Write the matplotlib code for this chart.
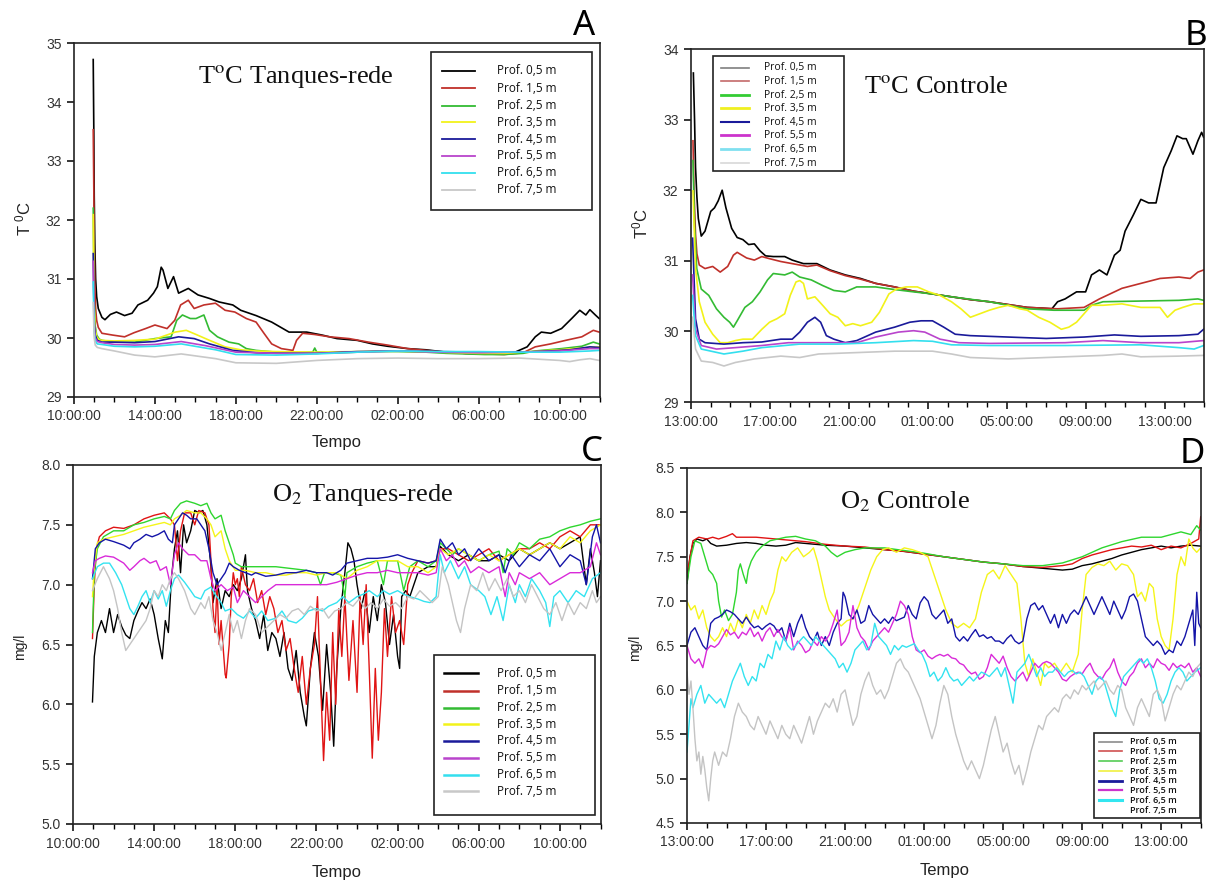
import matplotlib
matplotlib.use("Agg")
import matplotlib.pyplot as plt
from matplotlib.patches import Rectangle
from matplotlib.lines import Line2D
from matplotlib.ticker import FormatStrFormatter

plt.rcParams['font.family'] = ['Liberation Sans', 'DejaVu Sans']
plt.rcParams['mathtext.fontset'] = 'custom'
plt.rcParams['mathtext.rm'] = 'Liberation Sans'
plt.rcParams['mathtext.it'] = 'Liberation Sans:italic'

# ---------------- labels ----------------
depth_labels = ["Prof. 0,5 m", "Prof. 1,5 m", "Prof. 2,5 m", "Prof. 3,5 m",
                "Prof. 4,5 m", "Prof. 5,5 m", "Prof. 6,5 m", "Prof. 7,5 m"]
ticks_AC = ["10:00:00", "14:00:00", "18:00:00", "22:00:00", "02:00:00", "06:00:00", "10:00:00"]
ticks_BD = ["13:00:00", "17:00:00", "21:00:00", "01:00:00", "05:00:00", "09:00:00", "13:00:00"]
tick_hours = [0, 4, 8, 12, 16, 20, 24]

# ---------------- Panel A: temperature, net cages (hours after 10:00, degC) ----------------
A_05 = [(0.95, 34.72), (0.98, 33.5), (1.0, 32.4), (1.03, 31.6), (1.07, 31.0), (1.12, 30.7), (1.2, 30.5),
        (1.38, 30.35), (1.53, 30.31), (1.8, 30.4), (2.1, 30.44), (2.5, 30.38), (2.87, 30.42), (3.16, 30.56),
        (3.64, 30.64), (3.93, 30.76), (4.12, 30.87), (4.31, 31.2), (4.4, 31.15), (4.64, 30.84), (4.92, 31.04),
        (5.17, 30.76), (5.65, 30.84), (6.13, 30.73), (6.7, 30.67), (7.18, 30.61), (7.85, 30.56), (8.24, 30.47),
        (9.0, 30.38), (9.77, 30.27), (10.63, 30.1), (11.5, 30.1), (12.26, 30.05), (13.0, 29.99), (14.0, 29.96),
        (14.75, 29.9), (15.5, 29.86), (16.5, 29.82), (17.4, 29.8), (18.4, 29.76), (19.35, 29.74), (20.3, 29.73),
        (21.26, 29.73), (21.8, 29.76), (22.4, 29.85), (22.8, 30.02), (23.1, 30.1), (23.56, 30.08), (24.1, 30.16),
        (24.6, 30.33), (25.0, 30.47), (25.3, 30.39), (25.5, 30.48), (25.77, 30.39), (25.96, 30.33)]
A_15 = [(0.95, 33.53), (0.98, 32.5), (1.0, 31.6), (1.03, 30.9), (1.07, 30.5), (1.12, 30.3), (1.2, 30.18),
        (1.38, 30.08), (1.9, 30.05), (2.5, 30.02), (2.97, 30.09), (3.54, 30.16), (4.0, 30.22), (4.6, 30.16),
        (4.98, 30.3), (5.27, 30.56), (5.65, 30.64), (5.94, 30.5), (6.42, 30.56), (6.99, 30.59), (7.47, 30.47),
        (7.95, 30.44), (8.52, 30.33), (9.0, 30.27), (9.39, 30.08), (9.77, 29.9), (10.25, 29.82), (10.82, 29.79),
        (11.0, 29.96), (11.3, 30.08), (11.88, 30.06), (12.64, 30.02), (13.6, 29.99), (14.56, 29.93), (15.5, 29.88),
        (16.5, 29.82), (17.4, 29.79), (18.4, 29.76), (19.35, 29.74), (20.3, 29.73), (21.26, 29.72), (22.2, 29.75),
        (22.8, 29.85), (23.56, 29.9), (24.3, 29.96), (25.1, 30.02), (25.67, 30.13), (25.96, 30.1)]
A_25 = [(0.95, 32.2), (0.98, 31.2), (1.0, 30.6), (1.05, 30.2), (1.12, 30.05), (1.25, 29.98), (1.38, 29.96),
        (2.0, 29.93), (3.0, 29.93), (4.0, 29.99), (4.8, 30.02), (5.08, 30.3), (5.36, 30.39), (5.75, 30.33),
        (6.03, 30.33), (6.42, 30.39), (6.7, 30.13), (7.09, 30.02), (7.66, 29.93), (8.14, 29.9), (8.52, 29.82),
        (9.0, 29.79), (10.0, 29.76), (11.0, 29.75), (11.8, 29.76), (11.9, 29.83), (12.0, 29.76), (13.0, 29.75),
        (14.0, 29.76), (15.0, 29.77), (16.0, 29.77), (17.4, 29.76), (18.4, 29.74), (19.35, 29.73), (20.3, 29.72),
        (21.26, 29.72), (22.2, 29.74), (22.8, 29.78), (24.1, 29.82), (25.1, 29.86), (25.67, 29.93), (25.96, 29.9)]
A_35 = [(0.95, 32.09), (0.98, 31.0), (1.0, 30.5), (1.05, 30.15), (1.12, 30.02), (1.25, 29.97), (1.38, 29.96),
        (2.0, 29.95), (3.0, 29.96), (4.0, 29.98), (5.0, 30.1), (5.55, 30.13), (6.1, 30.05), (6.7, 29.96),
        (7.47, 29.85), (8.24, 29.8), (9.0, 29.78), (10.0, 29.77), (12.0, 29.76), (14.0, 29.77), (16.0, 29.78),
        (18.0, 29.76), (20.0, 29.74), (21.3, 29.74), (22.5, 29.77), (24.0, 29.8), (25.0, 29.83), (25.96, 29.85)]
A_45 = [(0.95, 31.43), (0.98, 30.7), (1.0, 30.3), (1.05, 30.05), (1.15, 29.96), (1.38, 29.93), (2.0, 29.93),
        (3.0, 29.92), (4.0, 29.94), (5.17, 30.02), (5.94, 29.99), (6.7, 29.9), (7.85, 29.79), (9.0, 29.75),
        (10.0, 29.74), (12.0, 29.74), (14.0, 29.77), (16.0, 29.78), (18.0, 29.77), (20.0, 29.76), (22.0, 29.76),
        (23.5, 29.78), (24.5, 29.8), (25.5, 29.85), (25.96, 29.84)]
A_55 = [(0.95, 31.3), (0.98, 30.6), (1.0, 30.2), (1.05, 30.0), (1.15, 29.94), (1.38, 29.92), (2.0, 29.89),
        (3.0, 29.88), (4.0, 29.89), (5.3, 29.94), (6.5, 29.87), (8.0, 29.76), (10.0, 29.74), (12.0, 29.74),
        (14.0, 29.76), (16.0, 29.78), (18.0, 29.76), (20.0, 29.75), (22.0, 29.76), (24.0, 29.78), (25.5, 29.82),
        (25.96, 29.82)]
A_65 = [(0.95, 30.95), (0.98, 30.4), (1.0, 30.1), (1.05, 29.95), (1.15, 29.9), (1.38, 29.89), (2.0, 29.86),
        (3.0, 29.85), (4.0, 29.86), (5.3, 29.9), (7.0, 29.8), (8.0, 29.72), (10.0, 29.71), (12.0, 29.73),
        (14.0, 29.76), (16.0, 29.78), (18.0, 29.77), (20.0, 29.77), (22.0, 29.76), (24.0, 29.76), (25.5, 29.78),
        (25.96, 29.79)]
A_75 = [(0.95, 30.6), (0.98, 30.2), (1.0, 30.0), (1.05, 29.88), (1.15, 29.84), (1.38, 29.82), (2.0, 29.78),
        (3.0, 29.71), (4.0, 29.68), (5.3, 29.73), (7.0, 29.65), (8.0, 29.58), (10.0, 29.57), (12.0, 29.62),
        (14.0, 29.65), (16.0, 29.66), (18.0, 29.65), (20.0, 29.65), (22.0, 29.66), (24.0, 29.62), (24.5, 29.6),
        (25.0, 29.63), (25.5, 29.65), (25.96, 29.62)]

# ---------------- Panel B: temperature, control (hours after 13:00, degC) ----------------
B_05 = [(0.12, 33.66), (0.18, 33.0), (0.23, 32.32), (0.3, 31.9), (0.37, 31.6), (0.52, 31.35), (0.71, 31.42),
        (1.0, 31.7), (1.19, 31.75), (1.38, 31.85), (1.58, 32.0), (1.77, 31.75), (2.06, 31.46), (2.34, 31.33),
        (2.63, 31.3), (2.92, 31.23), (3.21, 31.24), (3.5, 31.14), (3.78, 31.07), (4.17, 31.06), (4.75, 31.06),
        (5.13, 31.01), (5.7, 30.96), (6.38, 30.96), (7.05, 30.87), (7.82, 30.8), (8.59, 30.75), (9.36, 30.68),
        (10.32, 30.63), (11.28, 30.57), (12.24, 30.53), (13.2, 30.49), (14.16, 30.45), (15.12, 30.42),
        (16.08, 30.38), (17.04, 30.34), (17.8, 30.33), (18.29, 30.32), (18.58, 30.42), (18.96, 30.46),
        (19.54, 30.56), (20.0, 30.56), (20.3, 30.8), (20.7, 30.87), (21.08, 30.8), (21.46, 31.08), (21.75, 31.15),
        (22.0, 31.42), (22.42, 31.65), (22.8, 31.87), (23.19, 31.82), (23.57, 31.82), (23.96, 32.32),
        (24.34, 32.56), (24.63, 32.77), (24.92, 32.73), (25.1, 32.73), (25.44, 32.51), (25.69, 32.7),
        (25.88, 32.82), (25.98, 32.75)]
B_15 = [(0.1, 32.7), (0.15, 32.0), (0.23, 31.37), (0.3, 31.1), (0.42, 30.94), (0.71, 30.89), (1.1, 30.92),
        (1.48, 30.84), (1.86, 30.92), (2.15, 31.08), (2.34, 31.12), (2.82, 31.04), (3.21, 31.01), (3.59, 31.06),
        (3.98, 31.03), (4.55, 30.99), (5.13, 30.96), (5.9, 30.92), (6.38, 30.94), (7.05, 30.86), (7.82, 30.79),
        (8.59, 30.74), (9.36, 30.68), (10.32, 30.63), (11.28, 30.57), (12.24, 30.53), (13.2, 30.49),
        (14.16, 30.45), (15.12, 30.42), (16.08, 30.38), (17.04, 30.34), (17.8, 30.33), (18.58, 30.32),
        (19.92, 30.34), (20.7, 30.46), (21.46, 30.56), (21.84, 30.61), (22.8, 30.68), (23.77, 30.75),
        (24.73, 30.77), (25.3, 30.75), (25.69, 30.84), (25.98, 30.87)]
B_25 = [(0.1, 32.42), (0.18, 31.5), (0.29, 30.89), (0.52, 30.6), (0.9, 30.51), (1.29, 30.32), (1.67, 30.2),
        (1.96, 30.13), (2.15, 30.06), (2.34, 30.15), (2.73, 30.34), (3.11, 30.42), (3.5, 30.56), (3.88, 30.73),
        (4.17, 30.82), (4.75, 30.8), (5.13, 30.84), (5.51, 30.77), (6.09, 30.73), (6.67, 30.65), (7.24, 30.58),
        (7.82, 30.56), (8.4, 30.63), (9.36, 30.63), (10.12, 30.6), (11.28, 30.56), (12.24, 30.53), (13.2, 30.49),
        (15.12, 30.42), (17.04, 30.32), (18.39, 30.3), (19.92, 30.3), (20.3, 30.37), (20.88, 30.42),
        (22.8, 30.43), (24.73, 30.44), (25.69, 30.46), (25.98, 30.44)]
B_35 = [(0.1, 31.99), (0.23, 30.89), (0.42, 30.42), (0.71, 30.13), (1.1, 29.96), (1.48, 29.84), (1.86, 29.84),
        (2.25, 29.87), (2.63, 29.89), (3.11, 29.89), (3.59, 30.03), (3.98, 30.13), (4.36, 30.18), (4.75, 30.25),
        (5.03, 30.51), (5.32, 30.7), (5.51, 30.72), (5.7, 30.68), (5.9, 30.46), (6.28, 30.49), (6.67, 30.37),
        (7.05, 30.25), (7.44, 30.2), (7.82, 30.08), (8.2, 30.11), (8.59, 30.08), (9.16, 30.13), (9.55, 30.27),
        (10.03, 30.53), (10.41, 30.6), (10.9, 30.63), (11.47, 30.63), (12.05, 30.56), (12.62, 30.51),
        (13.2, 30.42), (13.68, 30.32), (14.16, 30.2), (14.64, 30.25), (15.12, 30.3), (15.6, 30.34),
        (16.08, 30.37), (16.66, 30.32), (17.04, 30.3), (17.62, 30.2), (18.19, 30.13), (18.77, 30.03),
        (19.15, 30.06), (19.54, 30.13), (19.92, 30.25), (20.3, 30.37), (20.88, 30.37), (21.84, 30.39),
        (22.8, 30.34), (23.77, 30.34), (24.15, 30.2), (24.53, 30.3), (24.92, 30.34), (25.5, 30.39),
        (25.98, 30.39)]
B_45 = [(0.08, 31.32), (0.23, 30.18), (0.42, 29.89), (0.71, 29.84), (1.67, 29.82), (2.63, 29.84),
        (3.59, 29.85), (4.55, 29.89), (5.13, 29.89), (5.51, 29.99), (5.9, 30.13), (6.28, 30.2), (6.57, 30.13),
        (6.86, 29.94), (7.24, 29.89), (7.82, 29.84), (8.4, 29.87), (9.36, 29.99), (10.32, 30.06), (11.09, 30.13),
        (11.66, 30.15), (12.24, 30.15), (12.81, 30.06), (13.39, 29.96), (14.16, 29.94), (16.08, 29.92),
        (18.0, 29.9), (19.92, 29.92), (21.46, 29.95), (22.8, 29.93), (24.73, 29.94), (25.69, 29.96),
        (25.98, 30.03)]
B_55 = [(0.08, 30.8), (0.23, 30.03), (0.52, 29.8), (1.29, 29.75), (2.25, 29.77), (3.59, 29.8), (4.94, 29.84),
        (6.09, 29.84), (7.44, 29.84), (8.4, 29.84), (9.36, 29.92), (10.51, 29.99), (11.28, 30.01),
        (11.85, 29.99), (12.62, 29.89), (13.58, 29.84), (15.12, 29.83), (18.96, 29.84), (20.88, 29.87),
        (22.8, 29.84), (24.73, 29.84), (25.98, 29.87)]
B_65 = [(0.08, 30.51), (0.23, 29.94), (0.52, 29.75), (1.67, 29.68), (2.63, 29.72), (3.59, 29.77),
        (5.51, 29.82), (7.44, 29.82), (9.36, 29.84), (11.28, 29.87), (12.24, 29.86), (13.2, 29.81),
        (15.12, 29.8), (18.96, 29.8), (22.8, 29.81), (24.73, 29.77), (25.5, 29.75), (25.98, 29.8)]
B_75 = [(0.08, 30.2), (0.23, 29.75), (0.52, 29.58), (1.1, 29.56), (1.67, 29.51), (2.25, 29.56), (3.21, 29.61),
        (4.55, 29.65), (5.51, 29.63), (6.47, 29.68), (8.4, 29.7), (10.32, 29.72), (12.24, 29.72), (13.2, 29.68),
        (14.16, 29.63), (16.08, 29.61), (18.0, 29.63), (20.88, 29.66), (21.84, 29.68), (22.8, 29.64),
        (24.73, 29.65), (25.98, 29.66)]

# ---------------- Panel C: O2, net cages (hours after 10:00, mg/l) ----------------
C_05 = [(0.96, 6.02), (1.05, 6.4), (1.2, 6.6), (1.4, 6.7), (1.6, 6.6), (1.8, 6.8), (2.0, 6.6), (2.2, 6.75),
        (2.4, 6.65), (2.6, 6.58), (2.8, 6.55), (3.0, 6.7), (3.2, 6.78), (3.4, 6.85), (3.6, 6.8), (3.8, 6.88),
        (4.0, 6.75), (4.2, 6.55), (4.4, 6.38), (4.55, 6.7), (4.7, 6.6), (4.85, 7.05), (5.0, 7.3), (5.15, 7.45),
        (5.3, 7.1), (5.45, 7.5), (5.6, 7.35), (5.8, 7.45), (6.0, 7.62), (6.2, 7.6), (6.4, 7.62), (6.6, 7.5),
        (6.8, 7.15), (6.9, 6.85), (7.1, 7.05), (7.3, 6.8), (7.5, 6.95), (7.7, 6.9), (7.9, 7.0), (8.1, 6.95),
        (8.3, 7.05), (8.5, 7.25), (8.6, 6.95), (8.8, 6.8), (9.0, 6.7), (9.2, 6.55), (9.4, 6.75), (9.6, 6.45),
        (9.8, 6.6), (10.0, 6.55), (10.2, 6.4), (10.4, 6.6), (10.6, 6.3), (10.8, 6.2), (11.0, 6.45), (11.2, 6.1),
        (11.4, 5.9), (11.5, 5.82), (11.7, 6.3), (11.9, 6.6), (12.1, 6.4), (12.3, 5.95), (12.5, 6.5), (12.7, 6.1),
        (12.85, 5.65), (13.0, 6.3), (13.2, 6.8), (13.4, 7.1), (13.55, 7.35), (13.7, 7.3), (13.85, 7.2),
        (14.0, 7.0), (14.2, 6.8), (14.4, 6.95), (14.6, 6.6), (14.8, 6.9), (15.0, 6.7), (15.2, 7.0), (15.4, 6.85),
        (15.6, 6.5), (15.8, 6.75), (16.0, 6.4), (16.1, 6.3), (16.2, 6.9), (16.4, 6.95), (16.6, 6.9), (16.8, 7.0),
        (17.0, 7.1), (17.5, 7.15), (17.9, 7.15), (18.1, 7.32), (18.5, 7.25), (19.0, 7.2), (19.5, 7.25),
        (20.0, 7.2), (20.5, 7.2), (21.0, 7.25), (21.5, 7.2), (22.0, 7.3), (22.5, 7.25), (23.0, 7.3),
        (23.5, 7.35), (24.0, 7.3), (24.5, 7.35), (25.0, 7.4), (25.3, 7.0), (25.5, 7.3), (25.7, 7.1),
        (25.85, 6.9), (26.0, 7.2)]
C_15 = [(0.96, 6.55), (1.05, 7.0), (1.15, 7.3), (1.3, 7.4), (1.6, 7.45), (2.0, 7.48), (2.5, 7.47),
        (3.0, 7.5), (3.5, 7.55), (4.0, 7.58), (4.5, 7.6), (4.8, 7.55), (5.0, 7.5), (5.15, 7.2), (5.3, 7.45),
        (5.5, 7.6), (5.8, 7.6), (6.0, 7.5), (6.2, 7.62), (6.5, 7.6), (6.7, 7.5), (6.8, 7.2), (6.9, 6.8),
        (7.0, 6.6), (7.1, 7.0), (7.2, 6.5), (7.3, 6.7), (7.5, 6.25), (7.55, 6.22), (7.7, 6.5), (7.8, 6.9),
        (7.9, 7.1), (8.0, 7.0), (8.1, 7.05), (8.2, 6.9), (8.3, 7.15), (8.5, 7.0), (8.7, 6.95), (8.9, 7.05),
        (9.1, 6.85), (9.3, 6.95), (9.5, 6.75), (9.7, 6.9), (9.9, 6.8), (10.1, 6.6), (10.3, 6.7), (10.5, 6.45),
        (10.7, 6.55), (10.9, 6.3), (11.1, 6.1), (11.3, 6.4), (11.5, 6.0), (11.7, 6.3), (11.9, 6.5), (12.05, 6.9),
        (12.2, 6.2), (12.35, 5.53), (12.5, 6.1), (12.65, 5.7), (12.8, 6.6), (12.95, 6.0), (13.1, 6.8),
        (13.25, 6.4), (13.4, 6.9), (13.6, 6.2), (13.8, 6.7), (14.0, 6.1), (14.15, 6.9), (14.3, 6.5),
        (14.45, 7.0), (14.6, 6.3), (14.75, 5.55), (14.9, 6.3), (15.05, 5.7), (15.2, 6.1), (15.35, 6.8),
        (15.5, 6.4), (15.7, 6.9), (15.9, 6.6), (16.1, 6.7), (16.3, 6.5), (16.5, 7.0), (16.7, 7.1), (17.0, 7.2),
        (17.5, 7.18), (17.9, 7.2), (18.1, 7.3), (18.5, 7.3), (19.0, 7.25), (19.5, 7.2), (20.0, 7.25),
        (20.5, 7.3), (21.0, 7.2), (21.5, 7.25), (22.0, 7.3), (22.5, 7.3), (23.0, 7.35), (23.5, 7.3),
        (24.0, 7.4), (24.5, 7.45), (25.0, 7.4), (25.5, 7.5), (26.0, 7.5)]
C_25 = [(0.96, 6.6), (1.05, 7.1), (1.2, 7.3), (1.5, 7.4), (2.0, 7.45), (2.5, 7.45), (3.0, 7.5), (3.5, 7.52),
        (4.0, 7.55), (4.5, 7.57), (4.8, 7.55), (5.0, 7.62), (5.3, 7.68), (5.6, 7.7), (6.0, 7.68), (6.3, 7.66),
        (6.6, 7.68), (6.8, 7.6), (7.0, 7.55), (7.3, 7.58), (7.5, 7.45), (7.7, 7.35), (7.9, 7.25), (8.0, 7.18),
        (8.3, 7.15), (8.6, 7.15), (9.0, 7.15), (9.5, 7.15), (10.0, 7.15), (10.5, 7.14), (11.0, 7.13),
        (11.5, 7.12), (12.0, 7.1), (12.2, 7.0), (12.4, 7.1), (12.8, 7.1), (13.2, 7.08), (13.4, 6.9),
        (13.5, 7.1), (14.0, 7.15), (14.5, 7.18), (15.0, 7.2), (15.3, 7.0), (15.5, 7.2), (16.0, 7.2),
        (16.3, 6.95), (16.6, 7.15), (17.0, 7.2), (17.5, 7.15), (17.9, 7.2), (18.1, 7.35), (18.4, 7.3),
        (18.7, 7.25), (19.0, 7.3), (19.5, 7.25), (20.0, 7.2), (20.5, 7.25), (21.0, 7.28), (21.2, 7.1),
        (21.4, 7.3), (21.7, 7.25), (22.0, 7.35), (22.5, 7.3), (23.0, 7.38), (23.5, 7.4), (24.0, 7.45),
        (24.5, 7.48), (25.0, 7.5), (25.5, 7.53), (26.0, 7.55)]
C_35 = [(0.96, 6.9), (1.05, 7.15), (1.2, 7.35), (1.5, 7.38), (2.0, 7.4), (2.5, 7.42), (3.0, 7.45),
        (3.5, 7.48), (4.0, 7.5), (4.5, 7.52), (4.8, 7.5), (5.0, 7.55), (5.3, 7.58), (5.6, 7.62), (6.0, 7.6),
        (6.3, 7.6), (6.6, 7.55), (6.8, 7.5), (7.0, 7.4), (7.3, 7.45), (7.5, 7.3), (7.7, 7.2), (8.0, 7.12),
        (8.5, 7.12), (9.0, 7.1), (9.5, 7.1), (10.0, 7.08), (10.5, 7.08), (11.0, 7.1), (11.5, 7.1), (12.0, 7.08),
        (12.5, 7.1), (13.0, 7.1), (13.5, 7.05), (14.0, 7.12), (14.5, 7.15), (15.0, 7.2), (15.5, 7.2),
        (16.0, 7.2), (16.5, 7.15), (17.0, 7.15), (17.5, 7.1), (17.9, 7.15), (18.1, 7.3), (18.5, 7.25),
        (19.0, 7.3), (19.5, 7.25), (20.0, 7.2), (20.5, 7.25), (21.0, 7.2), (21.5, 7.25), (22.0, 7.3),
        (22.5, 7.25), (23.0, 7.3), (23.5, 7.35), (24.0, 7.3), (24.5, 7.4), (25.0, 7.35), (25.5, 7.45),
        (26.0, 7.5)]
C_45 = [(0.96, 7.05), (1.1, 7.3), (1.3, 7.35), (1.6, 7.38), (2.0, 7.36), (2.5, 7.33), (2.8, 7.3),
        (3.0, 7.35), (3.3, 7.38), (3.6, 7.42), (3.9, 7.4), (4.2, 7.42), (4.5, 7.45), (4.7, 7.38), (4.9, 7.35),
        (5.0, 7.5), (5.2, 7.55), (5.4, 7.6), (5.6, 7.58), (5.8, 7.55), (6.1, 7.55), (6.3, 7.5), (6.5, 7.45),
        (6.7, 7.3), (6.9, 7.1), (7.1, 7.0), (7.3, 7.05), (7.5, 7.1), (7.7, 7.18), (7.9, 7.15), (8.2, 7.12),
        (8.5, 7.1), (8.8, 7.08), (9.0, 7.1), (9.5, 7.07), (10.0, 7.08), (10.5, 7.1), (11.0, 7.1), (11.5, 7.12),
        (12.0, 7.1), (12.5, 7.1), (12.8, 7.08), (13.2, 7.12), (13.5, 7.18), (14.0, 7.2), (14.5, 7.22),
        (15.0, 7.22), (15.5, 7.23), (16.0, 7.25), (16.5, 7.22), (17.0, 7.2), (17.5, 7.18), (17.9, 7.2),
        (18.1, 7.38), (18.4, 7.3), (18.7, 7.35), (19.0, 7.25), (19.3, 7.3), (19.6, 7.2), (20.0, 7.3),
        (20.5, 7.2), (21.0, 7.25), (21.3, 7.1), (21.6, 7.25), (22.0, 7.15), (22.5, 7.25), (23.0, 7.2),
        (23.5, 7.3), (24.0, 7.15), (24.5, 7.25), (25.0, 7.2), (25.3, 7.0), (25.6, 7.4), (25.8, 7.5),
        (26.0, 7.35)]
C_55 = [(0.96, 7.1), (1.1, 7.2), (1.3, 7.22), (1.6, 7.24), (2.0, 7.23), (2.5, 7.18), (2.8, 7.12),
        (3.0, 7.15), (3.3, 7.2), (3.5, 7.22), (3.8, 7.18), (4.1, 7.2), (4.3, 7.12), (4.6, 7.15), (4.8, 7.0),
        (5.0, 7.25), (5.2, 7.35), (5.4, 7.3), (5.7, 7.25), (6.0, 7.25), (6.3, 7.2), (6.6, 7.2), (6.8, 7.05),
        (7.0, 6.95), (7.3, 7.0), (7.6, 6.95), (7.9, 6.98), (8.1, 6.85), (8.4, 6.95), (8.7, 6.9), (9.0, 6.85),
        (9.3, 6.9), (9.6, 6.95), (10.0, 7.0), (10.5, 7.0), (11.0, 7.0), (11.5, 7.0), (12.0, 7.0), (12.5, 7.0),
        (13.0, 7.02), (13.5, 7.05), (14.0, 7.08), (14.5, 7.1), (15.0, 7.1), (15.5, 7.12), (16.0, 7.1),
        (16.5, 7.1), (17.0, 7.1), (17.5, 7.08), (17.9, 7.1), (18.1, 7.3), (18.4, 7.2), (18.7, 7.25),
        (19.0, 7.15), (19.3, 7.2), (19.6, 7.1), (20.0, 7.15), (20.5, 7.1), (21.0, 7.15), (21.3, 6.9),
        (21.5, 7.1), (21.8, 7.0), (22.0, 7.1), (22.5, 7.05), (23.0, 7.1), (23.5, 7.0), (24.0, 7.05),
        (24.5, 7.1), (25.0, 7.1), (25.5, 7.15), (25.8, 7.35), (26.0, 7.25)]
C_65 = [(0.96, 7.05), (1.2, 7.15), (1.5, 7.18), (1.8, 7.18), (2.1, 7.1), (2.4, 7.0), (2.6, 6.9), (2.8, 6.8),
        (3.0, 6.75), (3.2, 6.82), (3.4, 6.9), (3.6, 6.95), (3.8, 6.85), (4.0, 6.95), (4.2, 6.88), (4.4, 6.95),
        (4.6, 6.82), (4.8, 6.95), (5.0, 7.05), (5.2, 7.08), (5.5, 7.02), (5.8, 6.95), (6.0, 6.9), (6.3, 6.88),
        (6.5, 6.95), (6.8, 6.98), (7.0, 6.92), (7.3, 6.85), (7.5, 6.78), (7.8, 6.8), (8.1, 6.75), (8.4, 6.72),
        (8.7, 6.78), (9.0, 6.72), (9.3, 6.78), (9.6, 6.7), (10.0, 6.72), (10.3, 6.78), (10.6, 6.7),
        (11.0, 6.68), (11.3, 6.72), (11.6, 6.78), (12.0, 6.8), (12.3, 6.78), (12.6, 6.82), (13.0, 6.85),
        (13.3, 6.9), (13.6, 6.85), (14.0, 6.9), (14.3, 6.92), (14.6, 6.95), (15.0, 6.9), (15.3, 6.95),
        (15.6, 6.92), (16.0, 6.95), (16.3, 6.92), (16.6, 6.9), (17.0, 6.88), (17.3, 6.86), (17.6, 6.85),
        (17.9, 6.9), (18.1, 7.25), (18.3, 7.1), (18.6, 7.2), (19.0, 7.05), (19.3, 7.15), (19.6, 7.0),
        (20.0, 6.95), (20.3, 6.9), (20.6, 6.75), (20.9, 6.9), (21.2, 6.7), (21.5, 7.0), (21.8, 6.85),
        (22.0, 7.0), (22.3, 6.9), (22.6, 7.05), (23.0, 6.95), (23.3, 6.85), (23.5, 6.65), (23.7, 6.9),
        (24.0, 6.95), (24.4, 6.85), (24.8, 6.95), (25.2, 6.9), (25.6, 7.05), (26.0, 7.1)]
C_75 = [(0.96, 6.95), (1.2, 7.05), (1.5, 7.15), (1.8, 7.05), (2.0, 6.95), (2.2, 6.8), (2.4, 6.6),
        (2.6, 6.45), (2.8, 6.5), (3.0, 6.55), (3.2, 6.6), (3.4, 6.65), (3.6, 6.7), (3.8, 6.8), (4.0, 6.95),
        (4.2, 6.9), (4.4, 7.0), (4.6, 6.95), (4.8, 7.05), (5.0, 7.1), (5.2, 7.05), (5.5, 6.95), (5.8, 6.8),
        (6.0, 6.75), (6.3, 6.85), (6.5, 6.8), (6.7, 6.9), (6.9, 6.7), (7.1, 6.6), (7.3, 6.45), (7.5, 6.6),
        (7.7, 6.75), (7.9, 6.6), (8.1, 6.7), (8.3, 6.55), (8.5, 6.7), (8.7, 6.8), (9.0, 6.75), (9.3, 6.6),
        (9.6, 6.65), (9.9, 6.7), (10.2, 6.75), (10.5, 6.72), (10.8, 6.78), (11.1, 6.8), (11.4, 6.75),
        (11.7, 6.82), (12.0, 6.78), (12.3, 6.8), (12.6, 6.72), (12.9, 6.78), (13.2, 6.8), (13.5, 6.85),
        (13.8, 6.82), (14.1, 6.88), (14.4, 6.8), (14.7, 6.85), (15.0, 6.8), (15.3, 6.88), (15.6, 6.82),
        (15.9, 6.85), (16.2, 6.8), (16.5, 6.9), (16.8, 6.88), (17.1, 6.95), (17.4, 6.9), (17.7, 6.85),
        (18.0, 6.9), (18.2, 7.15), (18.5, 7.0), (18.7, 6.85), (18.9, 6.7), (19.1, 6.6), (19.3, 6.8),
        (19.6, 7.0), (19.9, 6.95), (20.2, 7.1), (20.5, 6.95), (20.8, 7.05), (21.1, 6.95), (21.4, 7.05),
        (21.7, 6.9), (22.0, 6.95), (22.3, 6.85), (22.6, 7.0), (22.9, 6.9), (23.2, 6.8), (23.5, 6.75),
        (23.8, 6.85), (24.1, 6.7), (24.4, 6.85), (24.7, 6.75), (25.0, 6.85), (25.3, 6.8), (25.6, 6.95),
        (25.8, 6.85), (26.0, 6.9)]

# ---------------- Panel D: O2, control (hours after 13:00, mg/l) ----------------
D_05 = [(0.0, 7.2), (0.15, 7.5), (0.3, 7.65), (0.5, 7.7), (0.8, 7.68), (1.0, 7.7), (1.2, 7.65), (1.5, 7.62),
        (2.0, 7.63), (2.5, 7.65), (3.0, 7.66), (3.5, 7.65), (4.0, 7.63), (4.5, 7.62), (5.0, 7.63), (5.5, 7.66),
        (6.0, 7.65), (6.5, 7.64), (7.0, 7.63), (8.0, 7.62), (9.0, 7.6), (10.0, 7.58), (11.0, 7.56),
        (12.0, 7.53), (13.0, 7.5), (14.0, 7.47), (15.0, 7.44), (16.0, 7.42), (17.0, 7.39), (18.0, 7.37),
        (18.5, 7.36), (19.0, 7.35), (19.5, 7.36), (20.0, 7.4), (20.5, 7.42), (21.0, 7.45), (21.5, 7.48),
        (22.0, 7.52), (22.5, 7.55), (23.0, 7.58), (23.5, 7.6), (24.0, 7.62), (24.5, 7.6), (25.0, 7.62),
        (25.5, 7.63), (26.0, 7.62)]
D_15 = [(0.0, 7.3), (0.3, 7.68), (0.6, 7.72), (1.0, 7.7), (1.3, 7.72), (1.6, 7.7), (2.0, 7.73), (2.3, 7.76),
        (2.5, 7.72), (3.0, 7.72), (3.5, 7.72), (4.0, 7.71), (4.5, 7.7), (5.0, 7.69), (6.0, 7.67), (7.0, 7.64),
        (8.0, 7.62), (9.0, 7.61), (10.0, 7.58), (11.0, 7.56), (12.0, 7.53), (13.0, 7.5), (14.0, 7.47),
        (15.0, 7.44), (16.0, 7.42), (17.0, 7.39), (18.0, 7.38), (19.0, 7.4), (19.5, 7.42), (20.0, 7.48),
        (20.5, 7.52), (21.0, 7.55), (21.5, 7.58), (22.0, 7.6), (22.5, 7.62), (23.0, 7.61), (23.5, 7.63),
        (24.0, 7.58), (24.5, 7.62), (25.0, 7.6), (25.5, 7.65), (25.9, 7.7), (26.0, 7.95)]
D_25 = [(0.0, 7.2), (0.2, 7.5), (0.4, 7.68), (0.7, 7.65), (0.9, 7.5), (1.1, 7.35), (1.3, 7.3), (1.5, 7.2),
        (1.6, 7.0), (1.75, 6.82), (1.9, 6.9), (2.1, 6.78), (2.3, 6.85), (2.5, 7.1), (2.6, 7.35), (2.7, 7.42),
        (2.85, 7.3), (3.0, 7.2), (3.1, 7.35), (3.25, 7.45), (3.5, 7.55), (3.8, 7.62), (4.2, 7.68), (4.6, 7.7),
        (5.0, 7.72), (5.5, 7.73), (6.0, 7.7), (6.5, 7.68), (7.0, 7.62), (7.3, 7.55), (7.6, 7.5), (8.0, 7.55),
        (8.5, 7.58), (9.0, 7.6), (10.0, 7.6), (11.0, 7.57), (12.0, 7.54), (13.0, 7.5), (14.0, 7.47),
        (15.0, 7.44), (16.0, 7.42), (17.0, 7.4), (18.0, 7.4), (19.0, 7.43), (20.0, 7.5), (21.0, 7.6),
        (22.0, 7.67), (23.0, 7.72), (24.0, 7.72), (24.5, 7.75), (25.0, 7.78), (25.5, 7.75), (25.8, 7.85),
        (26.0, 7.8)]
D_35 = [(0.0, 7.0), (0.2, 6.9), (0.4, 6.95), (0.6, 6.8), (0.8, 6.9), (1.0, 6.7), (1.2, 6.6), (1.4, 6.55),
        (1.6, 6.6), (1.8, 6.7), (2.0, 6.6), (2.2, 6.75), (2.4, 6.65), (2.6, 6.8), (2.8, 6.7), (3.0, 6.85),
        (3.2, 6.75), (3.4, 6.9), (3.6, 6.8), (3.8, 6.95), (4.0, 6.85), (4.2, 7.0), (4.4, 7.1), (4.6, 7.35),
        (4.8, 7.5), (5.0, 7.45), (5.3, 7.55), (5.6, 7.6), (5.9, 7.5), (6.2, 7.55), (6.4, 7.6), (6.6, 7.45),
        (6.8, 7.25), (7.0, 7.05), (7.2, 6.9), (7.5, 6.8), (7.8, 6.72), (8.1, 6.78), (8.4, 6.8), (8.7, 6.95),
        (9.0, 7.15), (9.3, 7.35), (9.6, 7.5), (9.9, 7.58), (10.2, 7.6), (10.6, 7.55), (11.0, 7.6),
        (11.4, 7.58), (11.8, 7.55), (12.2, 7.5), (12.5, 7.3), (12.8, 7.1), (13.1, 6.9), (13.4, 6.75),
        (13.7, 6.7), (14.0, 6.75), (14.3, 6.7), (14.6, 6.8), (14.9, 7.1), (15.2, 7.3), (15.5, 7.35),
        (15.8, 7.25), (16.1, 7.4), (16.4, 7.3), (16.7, 7.2), (16.9, 6.8), (17.1, 6.3), (17.3, 6.15),
        (17.5, 6.35), (17.7, 6.2), (17.9, 6.05), (18.1, 6.3), (18.3, 6.25), (18.6, 6.3), (18.9, 6.2),
        (19.2, 6.3), (19.5, 6.2), (19.8, 6.4), (20.0, 6.9), (20.2, 7.3), (20.5, 7.38), (20.8, 7.42),
        (21.1, 7.4), (21.4, 7.45), (21.7, 7.35), (22.0, 7.42), (22.3, 7.4), (22.6, 7.3), (22.8, 7.05),
        (23.0, 7.1), (23.2, 7.0), (23.4, 7.2), (23.6, 7.15), (23.8, 6.8), (24.0, 6.6), (24.2, 6.5),
        (24.4, 6.45), (24.6, 6.8), (24.8, 7.3), (25.0, 7.5), (25.2, 7.4), (25.4, 7.7), (25.6, 7.6),
        (25.8, 7.55), (26.0, 7.6)]
D_45 = [(0.0, 6.5), (0.2, 6.65), (0.4, 6.7), (0.6, 6.6), (0.8, 6.5), (1.0, 6.45), (1.2, 6.75), (1.4, 6.8),
        (1.6, 6.82), (1.8, 6.85), (2.0, 6.9), (2.2, 6.88), (2.4, 6.85), (2.6, 6.8), (2.8, 6.75), (3.0, 6.82),
        (3.2, 6.75), (3.4, 6.7), (3.6, 6.72), (3.8, 6.68), (4.0, 6.72), (4.2, 6.75), (4.4, 6.72), (4.6, 6.65),
        (4.8, 6.7), (5.0, 6.55), (5.2, 6.75), (5.4, 6.6), (5.6, 6.75), (5.8, 6.85), (6.0, 6.7), (6.2, 6.6),
        (6.4, 6.55), (6.6, 6.65), (6.8, 6.5), (7.0, 6.6), (7.2, 6.5), (7.4, 6.65), (7.6, 6.75), (7.8, 6.8),
        (7.9, 7.1), (8.0, 7.05), (8.2, 6.85), (8.4, 6.8), (8.6, 6.9), (8.8, 6.75), (9.0, 6.78), (9.2, 6.95),
        (9.4, 6.85), (9.6, 6.8), (9.8, 6.75), (10.0, 6.8), (10.2, 6.75), (10.4, 6.82), (10.6, 6.78),
        (10.8, 6.8), (11.0, 6.82), (11.2, 6.95), (11.4, 6.85), (11.6, 6.8), (11.8, 6.98), (12.0, 7.05),
        (12.2, 7.0), (12.4, 6.85), (12.6, 6.8), (12.8, 6.85), (13.0, 6.9), (13.2, 6.75), (13.4, 6.8),
        (13.6, 6.6), (13.8, 6.55), (14.0, 6.6), (14.2, 6.55), (14.4, 6.62), (14.6, 6.68), (14.8, 6.6),
        (15.0, 6.62), (15.2, 6.58), (15.4, 6.6), (15.6, 6.55), (15.8, 6.55), (16.0, 6.52), (16.2, 6.58),
        (16.4, 6.62), (16.6, 6.55), (16.8, 6.52), (17.0, 6.55), (17.2, 6.8), (17.4, 6.95), (17.6, 6.98),
        (17.8, 6.9), (18.0, 6.95), (18.2, 6.85), (18.4, 6.75), (18.6, 6.85), (18.8, 6.7), (19.0, 6.85),
        (19.2, 6.75), (19.4, 6.85), (19.6, 6.9), (19.8, 6.85), (20.0, 6.95), (20.2, 7.05), (20.4, 6.95),
        (20.6, 6.85), (20.8, 6.95), (21.0, 7.05), (21.2, 6.95), (21.4, 6.85), (21.6, 7.0), (21.8, 6.9),
        (22.0, 6.8), (22.2, 6.9), (22.4, 7.05), (22.6, 7.08), (22.8, 7.0), (23.0, 6.8), (23.2, 6.6),
        (23.4, 6.55), (23.6, 6.5), (23.8, 6.55), (24.0, 6.5), (24.2, 6.4), (24.4, 6.45), (24.6, 6.42),
        (24.8, 6.55), (25.0, 6.5), (25.2, 6.6), (25.4, 6.75), (25.6, 6.9), (25.7, 6.5), (25.8, 7.1),
        (25.9, 6.75), (26.0, 6.7)]
D_55 = [(0.0, 6.5), (0.2, 6.35), (0.4, 6.3), (0.6, 6.35), (0.8, 6.25), (1.0, 6.45), (1.2, 6.5), (1.4, 6.48),
        (1.6, 6.52), (1.8, 6.6), (2.0, 6.68), (2.2, 6.62), (2.4, 6.65), (2.6, 6.58), (2.8, 6.65), (3.0, 6.62),
        (3.2, 6.7), (3.4, 6.6), (3.6, 6.65), (3.8, 6.55), (4.0, 6.65), (4.2, 6.7), (4.4, 6.6), (4.6, 6.68),
        (4.8, 6.6), (5.0, 6.55), (5.2, 6.7), (5.4, 6.45), (5.6, 6.55), (5.8, 6.5), (6.0, 6.42), (6.2, 6.45),
        (6.4, 6.55), (6.6, 6.5), (6.8, 6.6), (7.0, 6.55), (7.2, 6.62), (7.4, 6.75), (7.6, 6.9), (7.8, 6.5),
        (8.0, 6.55), (8.2, 6.65), (8.4, 6.95), (8.6, 6.7), (8.8, 6.6), (9.0, 6.55), (9.2, 6.45), (9.4, 6.55),
        (9.6, 6.6), (9.8, 6.65), (10.0, 6.7), (10.2, 6.65), (10.4, 6.75), (10.6, 6.85), (10.8, 7.0),
        (11.0, 6.95), (11.2, 6.85), (11.4, 6.6), (11.6, 6.45), (11.8, 6.42), (12.0, 6.45), (12.2, 6.38),
        (12.4, 6.35), (12.6, 6.38), (12.8, 6.4), (13.0, 6.38), (13.2, 6.4), (13.4, 6.36), (13.6, 6.35),
        (13.8, 6.3), (14.0, 6.28), (14.2, 6.22), (14.4, 6.18), (14.6, 6.2), (14.8, 6.12), (15.0, 6.15),
        (15.2, 6.25), (15.4, 6.4), (15.6, 6.35), (15.8, 6.3), (16.0, 6.38), (16.2, 6.25), (16.4, 6.15),
        (16.6, 6.1), (16.8, 6.15), (17.0, 6.2), (17.2, 6.1), (17.4, 6.2), (17.6, 6.3), (17.8, 6.25),
        (18.0, 6.3), (18.2, 6.32), (18.4, 6.3), (18.6, 6.25), (18.8, 6.2), (19.0, 6.12), (19.2, 6.1),
        (19.4, 6.15), (19.6, 6.18), (19.8, 6.2), (20.0, 6.18), (20.2, 6.25), (20.4, 6.3), (20.6, 6.2),
        (20.8, 6.15), (21.0, 6.12), (21.2, 6.2), (21.4, 6.25), (21.6, 6.35), (21.8, 6.2), (22.0, 6.1),
        (22.2, 6.05), (22.4, 6.15), (22.6, 6.2), (22.8, 6.3), (23.0, 6.35), (23.2, 6.25), (23.4, 6.3),
        (23.6, 6.25), (23.8, 6.35), (24.0, 6.3), (24.2, 6.28), (24.4, 6.22), (24.6, 6.3), (24.8, 6.25),
        (25.0, 6.28), (25.2, 6.25), (25.4, 6.3), (25.6, 6.2), (25.8, 6.25), (26.0, 6.15)]
D_65 = [(0.0, 5.3), (0.1, 5.6), (0.2, 5.9), (0.3, 5.8), (0.5, 5.95), (0.7, 6.05), (0.9, 5.85), (1.1, 5.95),
        (1.3, 5.9), (1.5, 5.85), (1.7, 5.9), (1.9, 5.8), (2.1, 5.95), (2.3, 6.1), (2.5, 6.2), (2.7, 6.3),
        (2.9, 6.15), (3.1, 6.05), (3.3, 6.15), (3.5, 6.1), (3.7, 6.3), (3.9, 6.25), (4.1, 6.4), (4.3, 6.35),
        (4.5, 6.55), (4.7, 6.45), (4.9, 6.6), (5.1, 6.5), (5.3, 6.45), (5.5, 6.5), (5.7, 6.55), (5.9, 6.6),
        (6.1, 6.55), (6.3, 6.5), (6.5, 6.6), (6.7, 6.55), (6.9, 6.5), (7.1, 6.45), (7.3, 6.4), (7.5, 6.35),
        (7.7, 6.25), (7.9, 6.3), (8.1, 6.2), (8.3, 6.3), (8.5, 6.45), (8.7, 6.5), (8.9, 6.55), (9.1, 6.45),
        (9.3, 6.5), (9.5, 6.75), (9.7, 6.6), (9.9, 6.55), (10.1, 6.5), (10.3, 6.4), (10.5, 6.5), (10.7, 6.45),
        (10.9, 6.5), (11.1, 6.48), (11.3, 6.5), (11.5, 6.52), (11.7, 6.45), (11.9, 6.4), (12.1, 6.3),
        (12.3, 6.15), (12.5, 6.2), (12.7, 6.1), (12.9, 6.15), (13.1, 6.25), (13.3, 6.15), (13.5, 6.1),
        (13.7, 6.12), (13.9, 6.05), (14.1, 6.1), (14.3, 6.15), (14.5, 6.1), (14.7, 6.15), (14.9, 6.2),
        (15.1, 6.18), (15.3, 6.15), (15.5, 6.2), (15.7, 6.25), (15.9, 6.15), (16.1, 6.25), (16.3, 6.05),
        (16.5, 5.85), (16.7, 6.2), (16.9, 6.25), (17.1, 6.3), (17.3, 6.4), (17.5, 6.28), (17.7, 6.15),
        (17.9, 6.25), (18.1, 6.15), (18.3, 6.2), (18.5, 6.2), (18.7, 6.25), (18.9, 6.2), (19.1, 6.15),
        (19.3, 6.2), (19.5, 6.22), (19.7, 6.18), (19.9, 6.2), (20.1, 6.15), (20.3, 6.05), (20.5, 5.95),
        (20.7, 6.1), (20.9, 6.15), (21.1, 6.1), (21.3, 5.95), (21.5, 5.8), (21.7, 5.7), (21.9, 6.0),
        (22.1, 6.15), (22.3, 6.2), (22.5, 6.25), (22.7, 6.3), (22.9, 6.35), (23.1, 6.3), (23.3, 6.35),
        (23.5, 6.25), (23.7, 6.1), (23.9, 5.9), (24.1, 5.85), (24.3, 5.95), (24.5, 6.1), (24.7, 6.2),
        (24.9, 6.25), (25.1, 6.2), (25.3, 6.1), (25.5, 6.15), (25.7, 6.2), (26.0, 6.25)]
D_75 = [(0.0, 6.2), (0.1, 5.95), (0.2, 6.1), (0.3, 5.8), (0.4, 5.45), (0.5, 5.2), (0.6, 5.3), (0.7, 5.05),
        (0.8, 5.25), (0.9, 5.1), (1.0, 4.9), (1.1, 4.75), (1.2, 5.0), (1.3, 5.2), (1.4, 5.3), (1.6, 5.15),
        (1.8, 5.3), (2.0, 5.25), (2.2, 5.45), (2.4, 5.7), (2.6, 5.85), (2.8, 5.75), (3.0, 5.7), (3.2, 5.6),
        (3.4, 5.55), (3.6, 5.7), (3.8, 5.6), (4.0, 5.5), (4.2, 5.65), (4.4, 5.55), (4.6, 5.45), (4.8, 5.6),
        (5.0, 5.5), (5.2, 5.45), (5.4, 5.6), (5.6, 5.5), (5.8, 5.4), (6.0, 5.55), (6.2, 5.7), (6.4, 5.5),
        (6.6, 5.65), (6.8, 5.75), (7.0, 5.85), (7.2, 5.8), (7.4, 5.9), (7.6, 5.75), (7.8, 5.95), (8.0, 6.0),
        (8.2, 5.8), (8.4, 5.6), (8.6, 5.7), (8.8, 5.95), (9.0, 6.1), (9.2, 6.2), (9.4, 6.05), (9.6, 5.95),
        (9.8, 6.0), (10.0, 5.9), (10.2, 6.0), (10.4, 6.15), (10.6, 6.3), (10.8, 6.35), (11.0, 6.25),
        (11.2, 6.2), (11.4, 6.1), (11.6, 6.0), (11.8, 5.9), (12.0, 5.75), (12.2, 5.6), (12.4, 5.45),
        (12.6, 5.6), (12.8, 5.85), (13.0, 6.05), (13.2, 5.95), (13.4, 5.7), (13.6, 5.5), (13.8, 5.35),
        (14.0, 5.2), (14.2, 5.1), (14.4, 5.2), (14.6, 5.1), (14.8, 5.0), (15.0, 5.15), (15.2, 5.35),
        (15.4, 5.55), (15.6, 5.7), (15.8, 5.5), (16.0, 5.3), (16.2, 5.4), (16.4, 5.2), (16.6, 5.05),
        (16.8, 5.15), (17.0, 4.93), (17.2, 5.1), (17.4, 5.3), (17.6, 5.45), (17.8, 5.6), (18.0, 5.55),
        (18.2, 5.7), (18.4, 5.75), (18.6, 5.8), (18.8, 5.75), (19.0, 5.9), (19.2, 5.95), (19.4, 5.9),
        (19.6, 6.0), (19.8, 5.95), (20.0, 6.05), (20.2, 6.0), (20.4, 6.05), (20.6, 6.1), (20.8, 6.0),
        (21.0, 6.05), (21.2, 6.1), (21.4, 6.0), (21.6, 5.95), (21.8, 6.05), (22.0, 6.0), (22.2, 5.8),
        (22.4, 5.7), (22.6, 5.6), (22.8, 5.8), (23.0, 5.9), (23.2, 5.8), (23.4, 5.7), (23.6, 5.95),
        (23.8, 6.0), (24.0, 5.9), (24.2, 5.65), (24.4, 5.8), (24.6, 5.95), (24.8, 6.05), (25.0, 6.0),
        (25.2, 6.1), (25.4, 6.2), (25.6, 6.15), (25.8, 6.25), (26.0, 6.3)]

# ---------------- styling ----------------
W, H = 1207, 881
line_colors_A = ['#000000', '#c0302a', '#33bb33', '#f2f21a', '#1a1a9a', '#b944cc', '#33dfee', '#c8c8c8']
line_colors_C = ['#000000', '#e01414', '#2ed62e', '#f5f51a', '#1414a8', '#d92ad9', '#33e3f0', '#c4c4c4']
leg_colors_AC = ['#000000', '#c0302a', '#33bb33', '#f2f21a', '#1a1a9a', '#b944cc', '#33dfee', '#c8c8c8']
leg_colors_B = ['#7f7f7f', '#c46a6a', '#33cc33', '#f0f020', '#1a1a9a', '#cc33cc', '#80e0f0', '#d8d8d8']
leg_colors_D = ['#8c8c8c', '#d05050', '#55cc55', '#f0f040', '#1a1a9a', '#cc33cc', '#33e6f0', '#ffffff']


def fx(x):
    return x / W


def fy(y):
    return 1 - y / H


fig = plt.figure(figsize=(W / 100, H / 100), dpi=100)


def make_axes(l, t, r, b):
    return fig.add_axes([fx(l), fy(b), (r - l) / W, (b - t) / H])


axA = make_axes(74, 43, 600, 397)
axB = make_axes(691, 49, 1204, 402)
axC = make_axes(73, 465, 600.5, 824)
axD = make_axes(687, 468, 1200.7, 823)


def style(ax, ylim, yticks, xlabels, yfmt):
    ax.set_xlim(0, 26)
    ax.set_ylim(*ylim)
    ax.set_yticks(yticks)
    ax.yaxis.set_major_formatter(FormatStrFormatter(yfmt))
    ax.set_xticks(tick_hours)
    ax.set_xticklabels(xlabels)
    ax.set_xticks(list(range(0, 27)), minor=True)
    ax.tick_params(axis='both', which='major', direction='out', length=5, width=1.1,
                   labelsize=10, labelcolor='#333333', pad=4)
    ax.tick_params(axis='x', which='minor', direction='out', length=3.5, width=1.0)
    ax.tick_params(axis='y', which='minor', length=0)
    for s in ax.spines.values():
        s.set_linewidth(1.2)
        s.set_color('#222222')


def plot_series(ax, series, colors, lw):
    for s, c in zip(series, colors):
        t = [p[0] for p in s]
        v = [p[1] for p in s]
        ax.plot(t, v, color=c, lw=lw, solid_joinstyle='round')


plot_series(axA, [A_05, A_15, A_25, A_35, A_45, A_55, A_65, A_75], line_colors_A, 1.2)
plot_series(axB, [B_05, B_15, B_25, B_35, B_45, B_55, B_65, B_75], line_colors_A, 1.2)
plot_series(axC, [C_05, C_15, C_25, C_35, C_45, C_55, C_65, C_75], line_colors_C, 1.0)
plot_series(axD, [D_05, D_15, D_25, D_35, D_45, D_55, D_65, D_75], line_colors_C, 1.0)

style(axA, (29, 35), [29, 30, 31, 32, 33, 34, 35], ticks_AC, '%d')
style(axB, (29, 34), [29, 30, 31, 32, 33, 34], ticks_BD, '%d')
style(axC, (5.0, 8.0), [5.0, 5.5, 6.0, 6.5, 7.0, 7.5, 8.0], ticks_AC, '%.1f')
style(axD, (4.5, 8.5), [4.5, 5.0, 5.5, 6.0, 6.5, 7.0, 7.5, 8.0, 8.5], ticks_BD, '%.1f')


def draw_legend(box, rows, lx0, lx1, tx, colors, lws, fs, weight):
    x0, y0, x1, y1 = box
    fig.add_artist(Rectangle((fx(x0), fy(y1)), (x1 - x0) / W, (y1 - y0) / H,
                             transform=fig.transFigure, facecolor='white',
                             edgecolor='#222222', lw=1.2, zorder=5))
    for y, lab, c, lw in zip(rows, depth_labels, colors, lws):
        fig.add_artist(Line2D([fx(lx0), fx(lx1)], [fy(y), fy(y)], transform=fig.transFigure,
                              color=c, lw=lw, zorder=6))
        fig.text(fx(tx), fy(y), lab, ha='left', va='center', fontsize=fs,
                 family='Open Sans', weight=weight, color='#111111', zorder=7)


draw_legend((431, 52, 592, 210), [71, 88.3, 105.7, 122.3, 139.3, 155.7, 172.7, 189.7],
            442, 475, 497, leg_colors_AC, [1.3] * 8, 8.5, 'normal')
draw_legend((713, 56, 844, 171), [67.7, 81.3, 95.3, 108.3, 122.3, 135.3, 149.3, 163.3],
            721, 749, 764, leg_colors_B, [1.2, 1.2, 2.0, 2.0, 1.5, 2.0, 2.0, 1.2], 7.5, 'normal')
draw_legend((434, 655, 595, 815), [673.3, 690.7, 707.7, 724, 740.7, 757.7, 774.7, 791.3],
            444, 478, 497, leg_colors_AC, [1.8] * 8, 8.5, 'normal')
draw_legend((1094, 733, 1200, 818), [741.7, 751.3, 761.3, 771.3, 781, 790.3, 800.3, 810],
            1099, 1122, 1130, leg_colors_D, [1.2, 1.2, 1.2, 1.2, 2.0, 1.6, 2.2, 1.2], 6.5, 'semibold')

# titles inside panels
title_kw = dict(ha='center', va='center', fontsize=19, family='Liberation Serif',
                math_fontfamily='stix', color='#111111')
fig.text(fx(296), fy(76), r"T$^{\mathrm{o}}$C Tanques-rede", **title_kw)
fig.text(fx(936), fy(87), r"T$^{\mathrm{o}}$C Controle", **title_kw)
fig.text(fx(363), fy(495), r"O$_{\mathrm{2}}$ Tanques-rede", **title_kw)
fig.text(fx(905), fy(502), r"O$_{\mathrm{2}}$ Controle", **title_kw)

# panel letters
letter_kw = dict(ha='center', va='center', fontsize=25, family='Noto Sans', color='#000000')
fig.text(fx(584), fy(26), "A", **letter_kw)
fig.text(fx(1196), fy(36), "B", **letter_kw)
fig.text(fx(592), fy(452), "C", **letter_kw)
fig.text(fx(1192), fy(454), "D", **letter_kw)

# axis labels
fig.text(fx(23), fy(218), r"T $^{0}$C", rotation=90, ha='center', va='center', fontsize=12, color='#222222')
fig.text(fx(640), fy(224), r"T$^{0}$C", rotation=90, ha='center', va='center', fontsize=12, color='#222222')
fig.text(fx(20), fy(647), "mg/l", rotation=90, ha='center', va='center', fontsize=10, color='#222222')
fig.text(fx(635), fy(648), "mg/l", rotation=90, ha='center', va='center', fontsize=10, color='#222222')
fig.text(fx(337), fy(443), "Tempo", ha='center', va='center', fontsize=12, color='#222222')
fig.text(fx(337), fy(872), "Tempo", ha='center', va='center', fontsize=12, color='#222222')
fig.text(fx(945), fy(870), "Tempo", ha='center', va='center', fontsize=12, color='#222222')

fig.savefig("out.png", dpi=100, facecolor='white')
